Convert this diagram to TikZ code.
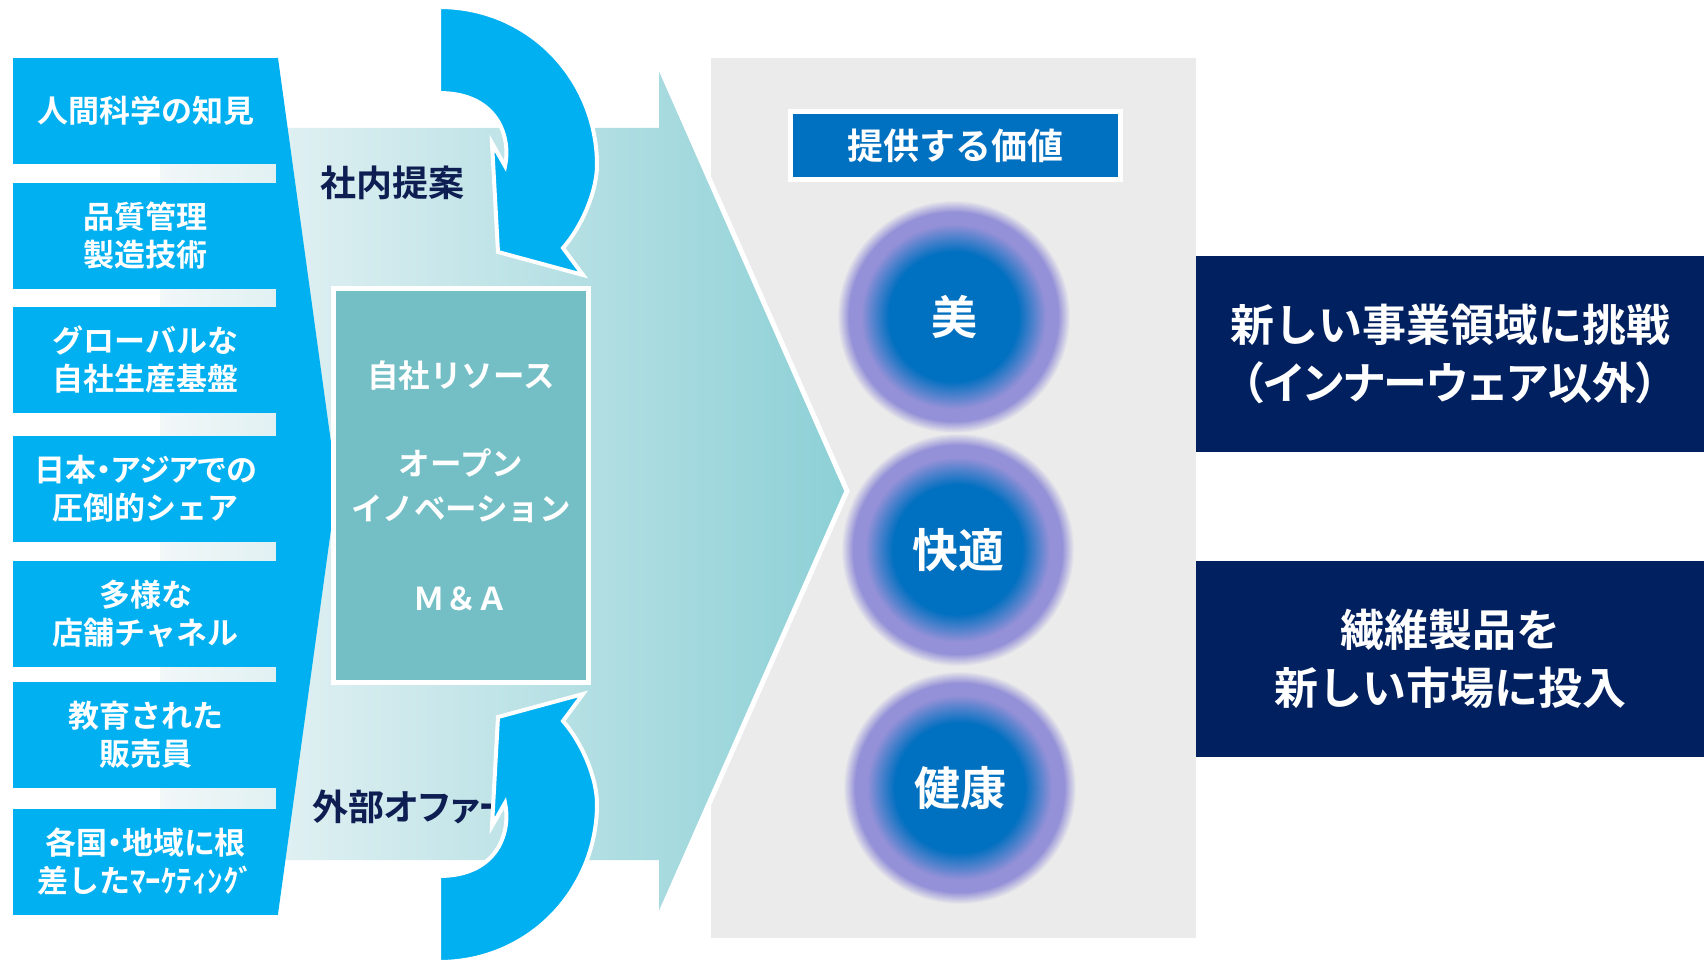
\documentclass[tikz,border=0pt]{standalone}
\usepackage{fontspec}
\setmainfont{Noto Sans CJK JP}[BoldFont={Noto Sans CJK JP Bold}]
\definecolor{lblue}{HTML}{00B0F0}
\definecolor{navy}{HTML}{002060}
\definecolor{vblue}{HTML}{0070C0}
\definecolor{tealbox}{RGB}{116,191,197}
\definecolor{panel}{HTML}{EBEBEB}
\definecolor{lav}{RGB}{149,145,216}
\definecolor{bandL}{RGB}{242,247,248}
\definecolor{bandR}{RGB}{140,208,214}
\definecolor{labnavy}{RGB}{14,30,82}
\newcommand\glowdisk[1]{%
  \foreach \k in {0,...,12}{%
    \pgfmathsetmacro\rr{117-\k}%
    \pgfmathtruncatemacro\pp{round(\k*100/12)}%
    \fill[lav!\pp!panel] (#1) circle[radius=\rr pt];}%
  \foreach \k in {0,...,28}{%
    \pgfmathsetmacro\rr{93-\k}%
    \pgfmathtruncatemacro\pp{round(\k*100/28)}%
    \fill[vblue!\pp!lav] (#1) circle[radius=\rr pt];}%
}
\begin{document}
\begin{tikzpicture}[x=1pt,y=-1pt,
  lbox/.style={fill=lblue, text=white, font=\bfseries\fontsize{31}{38}\selectfont, align=center, minimum width=265pt, minimum height=106pt, inner sep=0pt},
  tbox/.style={fill=tealbox, draw=white, line width=5pt, minimum width=255pt, minimum height=394pt, inner sep=0pt},
  ttext/.style={text=white, font=\bfseries\fontsize{31.5}{45}\selectfont, align=center, inner sep=0pt},
  lab/.style={text=labnavy, font=\bfseries\fontsize{36}{40}\selectfont, inner sep=0pt},
  carrow/.style={fill=lblue, draw=white, line width=4pt, line join=miter},
  valbox/.style={fill=vblue, draw=white, line width=5pt, text=white, font=\bfseries\fontsize{36}{40}\selectfont, minimum width=330pt, minimum height=68pt, inner sep=0pt},
  glowtext/.style={text=white, font=\bfseries\fontsize{46}{50}\selectfont, inner sep=0pt},
  navybox/.style={fill=navy, text=white, font=\bfseries\fontsize{44}{58}\selectfont, align=center, minimum width=508pt, minimum height=196pt, inner sep=0pt}
]
\useasboundingbox (0,0) rectangle (1708,963);
% grey panel
\fill[panel] (711,58) rectangle (1196,938);
% big gradient arrow band
\shade[left color=bandL, right color=bandR] (160,128) -- (659,128) -- (659,65) -- (847,491) -- (659,917) -- (659,860) -- (160,860) -- cycle;
\draw[white, line width=5pt, line join=miter] (659,65) -- (847,491) -- (659,917);
% left blue boxes
\fill[lblue] (276,58) -- (278,58) -- (337,486) -- (278,914) -- (276,914) -- cycle;
\node[lbox] (b1) at (145.5,111) {人間科学の知見};
\node[lbox] (b2) at (145.5,236) {品質管理\\製造技術};
\node[lbox] (b3) at (145.5,360) {グローバルな\\自社生産基盤};
\node[lbox] (b4) at (145.5,489) {{\addfontfeatures{RawFeature=+palt}日本・アジアでの}\\圧倒的シェア};
\node[lbox] (b5) at (145.5,614) {多様な\\店舗チャネル};
\node[lbox] (b6) at (145.5,734.5) {教育された\\販売員};
\node[lbox] (b7) at (145.5,861.5) {{\addfontfeatures{RawFeature=+palt}各国・地域に根}\\差したﾏｰｹﾃｨﾝｸﾞ};
% teal resource box
\node[tbox] (res) at (461,485.5) {};
\node[ttext] (r1) at (461,376) {自社リソース};
\node[ttext] (r2) at (461,485.5) {オープン\\イノベーション};
\node[ttext] (r3) at (461,599) {Ｍ＆Ａ};
% labels
\node[lab] (naibu) at (392,183) {社内提案};
\node[lab, anchor=west] (gaibu) at (312,807) {\addfontfeatures{RawFeature=+palt}外部オファー};
% curved arrows
\path[carrow] (439,7) .. controls (530,7) and (597,80) .. (597,165)
  .. controls (597,190) and (583,225) .. (563,248)
  -- (583,275) -- (498,252) -- (492,143) -- (505,166)
  .. controls (511,140) and (500,93) .. (439,93) -- cycle;
\path[carrow] (439,962) .. controls (530,962) and (597,889) .. (597,804)
  .. controls (597,779) and (583,744) .. (563,721)
  -- (583,694) -- (498,717) -- (492,826) -- (505,803)
  .. controls (511,829) and (500,876) .. (439,876) -- cycle;
% value box
\node[valbox] (val) at (955.5,145.5) {提供する価値};
% value circles
\coordinate (cc1) at (954,317);
\coordinate (cc2) at (958,550);
\coordinate (cc3) at (960,788);
\glowdisk{cc1}
\glowdisk{cc2}
\glowdisk{cc3}
\node[glowtext] (c1) at (cc1) {美};
\node[glowtext] (c2) at (cc2) {快適};
\node[glowtext] (c3) at (cc3) {健康};
% goals
\node[navybox] (g1) at (1450,354) {新しい事業領域に挑戦\\{\addfontfeatures{RawFeature=+palt}（インナーウェア以外）}};
\node[navybox] (g2) at (1450,659) {繊維製品を\\新しい市場に投入};
\end{tikzpicture}
\end{document}
